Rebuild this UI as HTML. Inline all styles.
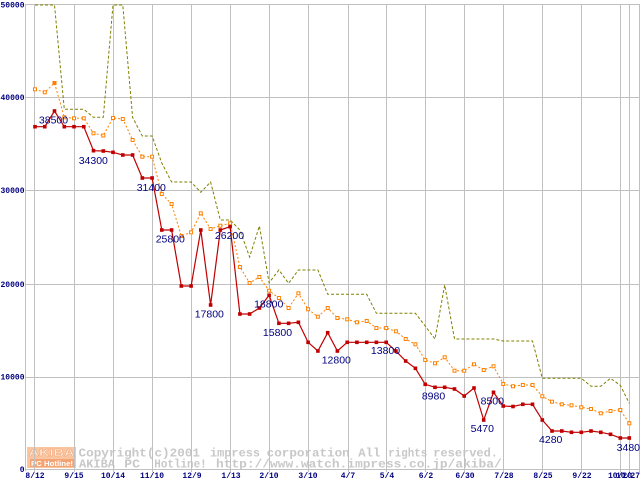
<!DOCTYPE html>
<html><head><meta charset="utf-8"><style>
html,body{margin:0;padding:0;background:#fff;}
svg{display:block;}
.ax{font-family:"Liberation Mono",monospace;font-weight:bold;font-size:8px;fill:#000080;}
.wm{font-family:"Liberation Mono",monospace;font-weight:bold;font-size:12px;fill:#c8c8c8;}
.lb{font-family:"Liberation Sans",sans-serif;font-size:10.5px;fill:#000080;text-anchor:middle;}
</style></head><body>
<svg width="640" height="480" viewBox="0 0 640 480" xmlns="http://www.w3.org/2000/svg">
<rect width="640" height="480" fill="#fff"/>
<!-- watermark -->
<rect x="27" y="447" width="49" height="21" fill="#f9c6a0"/>
<text x="28.5" y="456" font-family="Liberation Sans,sans-serif" font-weight="bold" font-size="10px" fill="#fff1e6" stroke="#f2a070" stroke-width="0.4" textLength="46" lengthAdjust="spacingAndGlyphs">AKIBA</text>
<rect x="30" y="459" width="44" height="8" fill="#f4a474"/>
<text x="31" y="466" font-family="Liberation Sans,sans-serif" font-weight="bold" font-size="7.5px" fill="#fff" textLength="42" lengthAdjust="spacingAndGlyphs">PC Hotline!</text>
<g class="wm">
<text x="78.5" y="456.7" textLength="121.5" lengthAdjust="spacingAndGlyphs">Copyright(c)2001</text>
<text x="210" y="456.7" textLength="50" lengthAdjust="spacingAndGlyphs">impress</text>
<text x="266.7" y="456.7" textLength="83" lengthAdjust="spacingAndGlyphs">corporation</text>
<text x="358.3" y="456.7" textLength="22" lengthAdjust="spacingAndGlyphs">All</text>
<text x="388.3" y="456.7" textLength="39" lengthAdjust="spacingAndGlyphs">rights</text>
<text x="433.3" y="456.7" textLength="64.7" lengthAdjust="spacingAndGlyphs">reserved.</text>
<text x="79" y="467.3" textLength="36" lengthAdjust="spacingAndGlyphs">AKIBA</text>
<text x="124.3" y="467.3" textLength="15.7" lengthAdjust="spacingAndGlyphs">PC</text>
<text x="154.3" y="467.3" textLength="52.4" lengthAdjust="spacingAndGlyphs">Hotline!</text>
<text x="216" y="467.3" textLength="285.7" lengthAdjust="spacingAndGlyphs">http://www.watch.impress.co.jp/akiba/</text>
</g>
<!-- grid -->
<g stroke="#c0c0c0" stroke-width="1" fill="none">
<path d="M25.5 4.5H639.5M25.5 97.5H639.5M25.5 190.5H639.5M25.5 284.5H639.5M25.5 377.5H639.5M25.5 469.5H639.5"/>
<path d="M25.5 4V471M34.5 4V472M74.5 4V472M113.5 4V472M152.5 4V472M191.5 4V472M230.5 4V472M269.5 4V472M308.5 4V472M348.5 4V472M386.5 4V472M425.5 4V472M464.5 4V472M503.5 4V472M542.5 4V472M581.5 4V472M620.5 4V472M629.5 4V472M639.5 4V472"/>
</g>
<!-- axis labels -->
<g class="ax" text-anchor="end">
<text x="24.5" y="7.5">50000</text>
<text x="24.5" y="100">40000</text>
<text x="24.5" y="193">30000</text>
<text x="24.5" y="287">20000</text>
<text x="24.5" y="379.5">10000</text>
<text x="24.5" y="472">0</text>
</g>
<g class="ax" text-anchor="middle">
<text x="35" y="478">8/12</text>
<text x="74" y="478">9/15</text>
<text x="113" y="478">10/14</text>
<text x="152" y="478">11/10</text>
<text x="192" y="478">12/9</text>
<text x="231" y="478">1/13</text>
<text x="269" y="478">2/10</text>
<text x="308" y="478">3/10</text>
<text x="348" y="478">4/7</text>
<text x="387" y="478">5/4</text>
<text x="426" y="478">6/2</text>
<text x="465" y="478">6/30</text>
<text x="504" y="478">7/28</text>
<text x="543" y="478">8/25</text>
<text x="582" y="478">9/22</text>
<text x="620" y="478">10/20</text>
<text x="640" y="478" text-anchor="end">10/27</text>
</g>
<!-- olive series -->
<polyline fill="none" stroke="#808000" stroke-width="1" stroke-dasharray="3,2" points="35,5 44.8,5 54.5,5 64.3,109.3 74,109.3 83.8,109.3 93.5,117.3 103.3,117.3 113,5 122.8,5 132.6,117.3 142.3,136 152.1,136 161.8,163 171.6,182 181.3,182 191.1,182 200.8,192.3 210.6,182 220.3,220 230.1,220 239.9,230 249.6,257 259.4,226 269.1,282.7 278.9,270 288.6,283.3 298.4,270 308.1,270 317.9,270 327.7,294.3 337.4,294.3 347.2,294.3 356.9,294.3 366.7,294.3 376.4,313.3 386.2,313.3 395.9,313.3 405.7,313.3 415.4,313.3 425.2,326 435,339 444.7,285 454.5,339 464.2,339 474,339 483.7,339 493.5,339 503.2,341 513,341 522.8,341 532.5,341 542.3,378.3 552,378.3 561.8,378.3 571.5,378.3 581.3,378.3 591,386.3 600.8,386.3 610.5,378.3 620.3,385.3 629.3,403.3"/>
<!-- orange series -->
<polyline id="or" fill="none" stroke="#ff8000" stroke-width="1" stroke-dasharray="2,2" points="35,89.3 44.8,92.3 54.5,83 64.3,117.3 74,118.3 83.8,118.3 93.5,133.3 103.3,135.5 113,118 122.8,119 132.6,140 142.3,156.7 152.1,156.7 161.8,194 171.6,204 181.3,236 191.1,232.3 200.8,213.3 210.6,229 220.3,225.7 230.1,223.3 239.9,267 249.6,283 259.4,277 269.1,290.7 278.9,298 288.6,308 298.4,293.3 308.1,309.3 317.9,316.7 327.7,308 337.4,318 347.2,319.3 356.9,322.3 366.7,321 376.4,328 386.2,328 395.9,331.3 405.7,339 415.4,344.3 425.2,360 435,363.3 444.7,357.3 454.5,370.7 464.2,370.7 474,364.3 483.7,370 493.5,366.3 503.2,384 513,386.3 522.8,385 532.5,385 542.3,396.3 552,401.7 561.8,404.3 571.5,405.3 581.3,407.3 591,409 600.8,413.3 610.5,411 620.3,410 629.3,423.3"/>
<g fill="#fff" stroke="#ff8000" stroke-width="1">
<rect x="33.5" y="87.8" width="3" height="3"/><rect x="43.3" y="90.8" width="3" height="3"/><rect x="53" y="81.5" width="3" height="3" fill="#ff8000"/><rect x="62.8" y="115.8" width="3" height="3"/><rect x="72.5" y="116.8" width="3" height="3"/><rect x="82.3" y="116.8" width="3" height="3"/><rect x="92" y="131.8" width="3" height="3"/><rect x="101.8" y="134" width="3" height="3"/><rect x="111.5" y="116.5" width="3" height="3"/><rect x="121.3" y="117.5" width="3" height="3"/><rect x="131.1" y="138.5" width="3" height="3"/><rect x="140.8" y="155.2" width="3" height="3"/><rect x="150.6" y="155.2" width="3" height="3"/><rect x="160.3" y="192.5" width="3" height="3"/><rect x="170.1" y="202.5" width="3" height="3"/><rect x="179.8" y="234.5" width="3" height="3"/><rect x="189.6" y="230.8" width="3" height="3"/><rect x="199.3" y="211.8" width="3" height="3"/><rect x="209.1" y="227.5" width="3" height="3"/><rect x="218.8" y="224.2" width="3" height="3"/><rect x="228.6" y="221.8" width="3" height="3"/><rect x="238.4" y="265.5" width="3" height="3"/><rect x="248.1" y="281.5" width="3" height="3"/><rect x="257.9" y="275.5" width="3" height="3"/><rect x="267.6" y="289.2" width="3" height="3"/><rect x="277.4" y="296.5" width="3" height="3"/><rect x="287.1" y="306.5" width="3" height="3"/><rect x="296.9" y="291.8" width="3" height="3"/><rect x="306.6" y="307.8" width="3" height="3"/><rect x="316.4" y="315.2" width="3" height="3"/><rect x="326.2" y="306.5" width="3" height="3"/><rect x="335.9" y="316.5" width="3" height="3"/><rect x="345.7" y="317.8" width="3" height="3"/><rect x="355.4" y="320.8" width="3" height="3"/><rect x="365.2" y="319.5" width="3" height="3"/><rect x="374.9" y="326.5" width="3" height="3"/><rect x="384.7" y="326.5" width="3" height="3"/><rect x="394.4" y="329.8" width="3" height="3"/><rect x="404.2" y="337.5" width="3" height="3"/><rect x="413.9" y="342.8" width="3" height="3"/><rect x="423.7" y="358.5" width="3" height="3"/><rect x="433.5" y="361.8" width="3" height="3"/><rect x="443.2" y="355.8" width="3" height="3"/><rect x="453" y="369.2" width="3" height="3"/><rect x="462.7" y="369.2" width="3" height="3"/><rect x="472.5" y="362.8" width="3" height="3"/><rect x="482.2" y="368.5" width="3" height="3"/><rect x="492" y="364.8" width="3" height="3"/><rect x="501.7" y="382.5" width="3" height="3"/><rect x="511.5" y="384.8" width="3" height="3"/><rect x="521.3" y="383.5" width="3" height="3"/><rect x="531" y="383.5" width="3" height="3"/><rect x="540.8" y="394.8" width="3" height="3"/><rect x="550.5" y="400.2" width="3" height="3"/><rect x="560.3" y="402.8" width="3" height="3"/><rect x="570" y="403.8" width="3" height="3"/><rect x="579.8" y="405.8" width="3" height="3"/><rect x="589.5" y="407.5" width="3" height="3"/><rect x="599.3" y="411.8" width="3" height="3"/><rect x="609" y="409.5" width="3" height="3"/><rect x="618.8" y="408.5" width="3" height="3"/><rect x="627.8" y="421.8" width="3" height="3"/>
</g>
<!-- red series -->
<polyline fill="none" stroke="#c00000" stroke-width="1.2" points="35,126.7 44.8,126.7 54.5,111 64.3,126.7 74,126.7 83.8,126.7 93.5,150.7 103.3,151 113,152.3 122.8,155 132.6,155 142.3,178 152.1,178 161.8,230 171.6,230 181.3,286 191.1,286 200.8,230 210.6,305 220.3,230 230.1,226.7 239.9,314 249.6,314 259.4,308 269.1,295.3 278.9,323.3 288.6,323.3 298.4,322.3 308.1,342.3 317.9,351 327.7,332.7 337.4,351 347.2,342.3 356.9,342.3 366.7,342.3 376.4,342.3 386.2,342.3 395.9,351 405.7,361 415.4,368.3 425.2,384.3 435,387.3 444.7,387.3 454.5,389 464.2,396 474,388 483.7,420 493.5,392.3 503.2,406 513,406.5 522.8,404.3 532.5,404.3 542.3,420 552,431 561.8,431 571.5,432.3 581.3,432.3 591,431 600.8,432.3 610.5,434.3 620.3,438 629.3,438"/>
<g fill="#c00000">
<rect x="33.2" y="124.9" width="3.6" height="3.6"/><rect x="43" y="124.9" width="3.6" height="3.6"/><rect x="52.7" y="109.2" width="3.6" height="3.6"/><rect x="62.5" y="124.9" width="3.6" height="3.6"/><rect x="72.2" y="124.9" width="3.6" height="3.6"/><rect x="82" y="124.9" width="3.6" height="3.6"/><rect x="91.7" y="148.9" width="3.6" height="3.6"/><rect x="101.5" y="149.2" width="3.6" height="3.6"/><rect x="111.2" y="150.5" width="3.6" height="3.6"/><rect x="121" y="153.2" width="3.6" height="3.6"/><rect x="130.8" y="153.2" width="3.6" height="3.6"/><rect x="140.5" y="176.2" width="3.6" height="3.6"/><rect x="150.3" y="176.2" width="3.6" height="3.6"/><rect x="160" y="228.2" width="3.6" height="3.6"/><rect x="169.8" y="228.2" width="3.6" height="3.6"/><rect x="179.5" y="284.2" width="3.6" height="3.6"/><rect x="189.3" y="284.2" width="3.6" height="3.6"/><rect x="199" y="228.2" width="3.6" height="3.6"/><rect x="208.8" y="303.2" width="3.6" height="3.6"/><rect x="218.5" y="228.2" width="3.6" height="3.6"/><rect x="228.3" y="224.9" width="3.6" height="3.6"/><rect x="238.1" y="312.2" width="3.6" height="3.6"/><rect x="247.8" y="312.2" width="3.6" height="3.6"/><rect x="257.6" y="306.2" width="3.6" height="3.6"/><rect x="267.3" y="293.5" width="3.6" height="3.6"/><rect x="277.1" y="321.5" width="3.6" height="3.6"/><rect x="286.8" y="321.5" width="3.6" height="3.6"/><rect x="296.6" y="320.5" width="3.6" height="3.6"/><rect x="306.3" y="340.5" width="3.6" height="3.6"/><rect x="316.1" y="349.2" width="3.6" height="3.6"/><rect x="325.9" y="330.9" width="3.6" height="3.6"/><rect x="335.6" y="349.2" width="3.6" height="3.6"/><rect x="345.4" y="340.5" width="3.6" height="3.6"/><rect x="355.1" y="340.5" width="3.6" height="3.6"/><rect x="364.9" y="340.5" width="3.6" height="3.6"/><rect x="374.6" y="340.5" width="3.6" height="3.6"/><rect x="384.4" y="340.5" width="3.6" height="3.6"/><rect x="394.1" y="349.2" width="3.6" height="3.6"/><rect x="403.9" y="359.2" width="3.6" height="3.6"/><rect x="413.6" y="366.5" width="3.6" height="3.6"/><rect x="423.4" y="382.5" width="3.6" height="3.6"/><rect x="433.2" y="385.5" width="3.6" height="3.6"/><rect x="442.9" y="385.5" width="3.6" height="3.6"/><rect x="452.7" y="387.2" width="3.6" height="3.6"/><rect x="462.4" y="394.2" width="3.6" height="3.6"/><rect x="472.2" y="386.2" width="3.6" height="3.6"/><rect x="481.9" y="418.2" width="3.6" height="3.6"/><rect x="491.7" y="390.5" width="3.6" height="3.6"/><rect x="501.4" y="404.2" width="3.6" height="3.6"/><rect x="511.2" y="404.7" width="3.6" height="3.6"/><rect x="521" y="402.5" width="3.6" height="3.6"/><rect x="530.7" y="402.5" width="3.6" height="3.6"/><rect x="540.5" y="418.2" width="3.6" height="3.6"/><rect x="550.2" y="429.2" width="3.6" height="3.6"/><rect x="560" y="429.2" width="3.6" height="3.6"/><rect x="569.7" y="430.5" width="3.6" height="3.6"/><rect x="579.5" y="430.5" width="3.6" height="3.6"/><rect x="589.2" y="429.2" width="3.6" height="3.6"/><rect x="599" y="430.5" width="3.6" height="3.6"/><rect x="608.7" y="432.5" width="3.6" height="3.6"/><rect x="618.5" y="436.2" width="3.6" height="3.6"/><rect x="627.5" y="436.2" width="3.6" height="3.6"/>
</g>
<!-- data labels -->
<g class="lb">
<text x="53.5" y="123.5">38500</text>
<text x="93.3" y="164.2">34300</text>
<text x="151.3" y="190.8">31400</text>
<text x="170.3" y="242.5">25800</text>
<text x="229.5" y="239.2">26200</text>
<text x="209.3" y="317.5">17800</text>
<text x="268.7" y="307.5">18800</text>
<text x="277.5" y="335.8">15800</text>
<text x="336.3" y="363.5">12800</text>
<text x="385.5" y="354.2">13800</text>
<text x="433.5" y="399.5">8980</text>
<text x="482.3" y="431.8">5470</text>
<text x="492.3" y="404.5">8500</text>
<text x="550.7" y="443.2">4280</text>
<text x="640" y="450.8" text-anchor="end">3480</text>
</g>
</svg>
</body></html>
